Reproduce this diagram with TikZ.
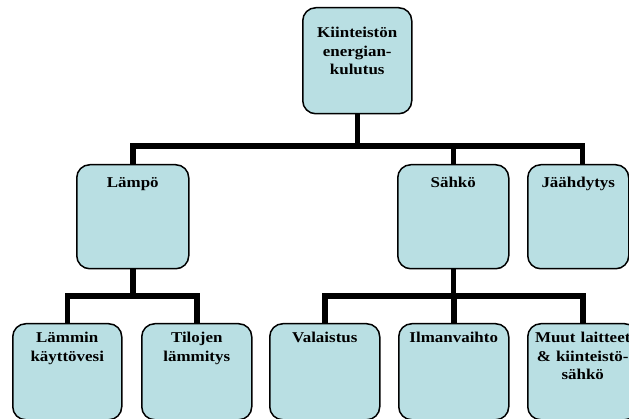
\documentclass[tikz,border=0pt]{standalone}
\usepackage{fontspec}
\setmainfont{Liberation Serif}[FakeStretch=1.13]
\definecolor{boxfill}{RGB}{185,223,227}
\tikzset{
  box/.style={draw=black, line width=1.5pt, fill=boxfill, rounded corners=13pt,
    anchor=north west, inner xsep=0pt, inner ysep=0pt, align=center,
    font=\bfseries\fontsize{15}{18.3}\selectfont},
  lvlone/.style={box, text height=30pt, text depth=76pt},
  lvltwo/.style={box, text height=23pt, text depth=81pt},
  lvlthree/.style={box, text height=19pt, text depth=77pt},
  conn/.style={draw=black, line width=5.5pt, line join=miter}
}
\begin{document}
\begin{tikzpicture}[x=1pt, y=-1pt]
\clip (0,0) rectangle (629,419);
\fill[white] (0,0) rectangle (629,419);

% top level
\node[lvlone, text width=109pt] (top) at (302,7) {Kiinteistön\\energian-\\kulutus};

% second level
\node[lvltwo, text width=112pt] (lampo) at (76,164) {Lämpö};
\node[lvltwo, text width=111pt] (sahko) at (397,164) {Sähkö};
\node[lvltwo, text width=101pt] (jaah) at (527,164) {Jäähdytys};

% third level
\node[lvlthree, text width=109pt] (lammin) at (12,323) {Lämmin\\käyttövesi};
\node[lvlthree, text width=110pt] (tilojen) at (141,323) {Tilojen\\lämmitys};
\node[lvlthree, text width=110pt] (valaistus) at (269,323) {Valaistus};
\node[lvlthree, text width=110pt] (ilma) at (398,323) {Ilmanvaihto};
\node[lvlthree, text width=110pt] (muut) at (527,323) {Muut laitteet\\\& kiinteistö-\\sähkö};

% connectors
\coordinate (busA) at (top.south |- 0,146);
\draw[conn] (top.south) -- (busA);
\draw[conn] (busA) -| (lampo.north);
\draw[conn] (busA) -| (sahko.north);
\draw[conn] (busA) -| ([xshift=4pt]jaah.north);

\coordinate (busB) at (lampo.south |- 0,296);
\draw[conn] (lampo.south) -- (busB);
\draw[conn] (busB) -| (lammin.north);
\draw[conn] (busB) -| (tilojen.north);

\coordinate (busC) at (sahko.south |- 0,296);
\draw[conn] (sahko.south) -- (busC);
\draw[conn] (busC) -| (valaistus.north);
\draw[conn] (busC) -| (ilma.north);
\draw[conn] (busC) -| (muut.north);
\end{tikzpicture}
\end{document}
